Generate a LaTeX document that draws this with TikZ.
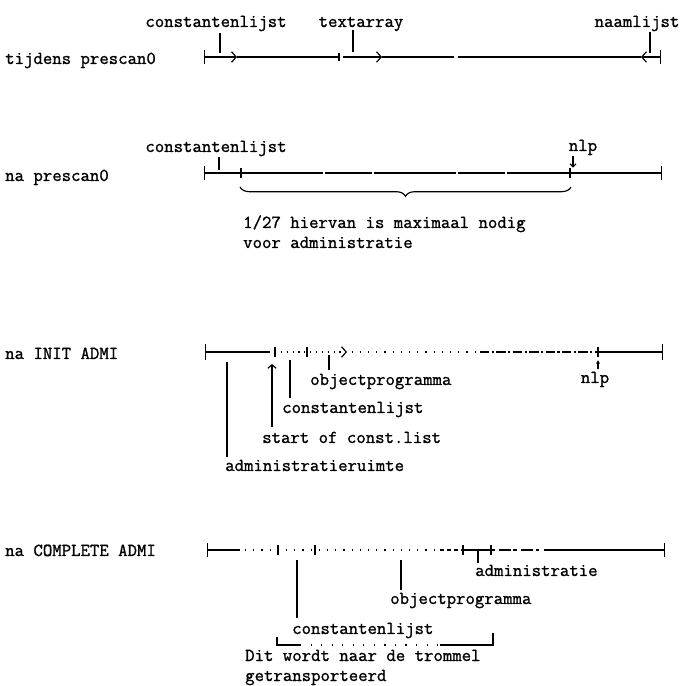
\documentclass[tikz,border=0pt]{standalone}
\usepackage{fontspec}
\newfontfamily\typew[FakeBold=1.2]{Latin Modern Mono}
\usetikzlibrary{arrows.meta,decorations.pathreplacing}
\tikzset{
  lbl/.style={font=\typew\fontsize{15.6}{16}\selectfont, inner sep=0pt},
  memline/.style={line width=1pt},
  pointer/.style={line width=1pt},
  barb/.style={-{Straight Barb[length=4pt,width=9pt]}}
}
\begin{document}
\begin{tikzpicture}[scale=1]
  \useasboundingbox (0,0) rectangle (20.61,20.55);
  % tijdens prescan0
  \node[lbl,anchor=base west] (rowA) at (0.15,18.63) {tijdens prescan0};
  \coordinate (a0) at (6.12,18.84);
  \coordinate (a1) at (10.17,18.84);
  \coordinate (a2) at (19.83,18.84);
  \draw[memline,{Bar[width=12pt]}-{Straight Barb[length=4pt,width=9pt]}] (a0) -- (7.11,18.84);
  \draw[memline] (7.11,18.84) -- (a1);
  \draw[memline] (a1) ++(0,0.13) -- ++(0,-0.26);
  \draw[memline,barb] (10.29,18.84) -- (11.46,18.84);
  \draw[memline] (11.46,18.84) -- (13.62,18.84);
  \draw[memline] (13.74,18.84) -- (19.23,18.84);
  \draw[memline,{Bar[width=12pt]}-{Straight Barb[length=4pt,width=9pt]}] (a2) -- (19.23,18.84);
  \node[lbl,anchor=base] (constA) at (6.48,19.74) {constantenlijst};
  \node[lbl,anchor=base] (textA) at (10.83,19.74) {textarray};
  \node[lbl,anchor=base] (naamA) at (19.11,19.74) {naamlijst};
  \draw[pointer] (6.6,19.56) -- (6.6,18.96);
  \draw[pointer] (10.59,19.65) -- (10.59,18.99);
  \draw[pointer] (19.5,19.59) -- (19.5,18.96);

  % na prescan0
  \node[lbl,anchor=base west] (rowB) at (0.15,15.12) {na prescan0};
  \coordinate (b0) at (6.12,15.36);
  \coordinate (b1) at (7.23,15.36);
  \coordinate (b2) at (17.1,15.36);
  \coordinate (b3) at (19.86,15.36);
  \draw[memline,{Bar[width=12pt]}-] (b0) -- (b1);
  \draw[memline,dash pattern=on 70pt off 1.5pt on 40pt off 2pt] (b1) -- (b2);
  \draw[memline,-{Bar[width=12pt]}] (b2) -- (b3);
  \draw[memline] (b1) ++(0,0.15) -- ++(0,-0.3);
  \draw[memline] (b2) ++(0,0.15) -- ++(0,-0.3);
  \node[lbl,anchor=base] (constB) at (6.48,15.99) {constantenlijst};
  \node[lbl,anchor=base] (nlpB) at (17.49,16.02) {nlp};
  \draw[pointer] (6.57,15.84) -- (6.57,15.45);
  \draw[pointer,-{Straight Barb[length=2.5pt,width=5pt]}] (17.19,15.87) -- (17.19,15.52);
  \draw[memline,decorate,decoration={brace,mirror,amplitude=8pt}] (7.2,14.94) -- (17.13,14.94);
  \node[lbl,anchor=base west] (noteB) at (7.29,13.71) {1/27 hiervan is maximaal nodig};
  \node[lbl,anchor=base west] (noteC) at (7.29,13.11) {voor administratie};

  % na INIT ADMI
  \node[lbl,anchor=base west] (rowC) at (0.15,9.78) {na INIT ADMI};
  \coordinate (c0) at (6.15,9.99);
  \coordinate (c1) at (8.25,9.99);
  \coordinate (c2) at (9.21,9.99);
  \coordinate (c3) at (17.94,9.99);
  \coordinate (c4) at (19.89,9.99);
  \draw[memline,{Bar[width=13pt]}-] (c0) -- (8.1,9.99);
  \draw[memline,dash pattern=on 1pt off 4pt,barb] (c1) -- (10.41,9.99);
  \draw[memline,dash pattern=on 1pt off 6pt] (10.55,9.99) -- (14.4,9.99);
  \draw[memline,dash pattern=on 8pt off 2pt on 2pt off 2pt] (14.4,9.99) -- (c3);
  \draw[memline,-{Bar[width=13pt]}] (c3) -- (c4);
  \draw[memline] (c1) ++(0,0.15) -- ++(0,-0.3);
  \draw[memline] (c2) ++(0,0.15) -- ++(0,-0.3);
  \draw[memline] (c3) ++(0,0.15) -- ++(0,-0.3);
  \node[lbl,anchor=base west] (objC) at (9.3,9.0) {objectprogramma};
  \node[lbl,anchor=base west] (constC) at (8.46,8.16) {constantenlijst};
  \node[lbl,anchor=base west] (startC) at (7.86,7.26) {start of const.list};
  \node[lbl,anchor=base west] (admC) at (6.75,6.42) {administratieruimte};
  \node[lbl,anchor=base] (nlpC) at (17.85,9.06) {nlp};
  \draw[pointer] (9.87,9.9) -- (9.87,9.45);
  \draw[pointer] (8.7,9.75) -- (8.7,8.61);
  \draw[pointer,-{Straight Barb[length=3pt,width=7pt]}] (8.16,7.74) -- (8.16,9.63);
  \draw[pointer] (6.81,9.69) -- (6.81,6.84);
  \draw[pointer,-{Stealth[length=3pt,width=3.5pt]}] (17.94,9.48) -- (17.94,9.74);

  % na COMPLETE ADMI
  \node[lbl,anchor=base west] (rowD) at (0.15,3.87) {na COMPLETE ADMI};
  \coordinate (d0) at (6.21,4.05);
  \coordinate (d1) at (8.34,4.05);
  \coordinate (d2) at (9.45,4.05);
  \coordinate (d3) at (13.89,4.05);
  \coordinate (d4) at (14.34,4.05);
  \coordinate (d5) at (14.73,4.05);
  \coordinate (d6) at (19.95,4.05);
  \draw[memline,{Bar[width=12pt]}-] (d0) -- (7.2,4.05);
  \draw[memline,dash pattern=on 1pt off 6pt] (7.35,4.05) -- (13.2,4.05);
  \draw[memline,dash pattern=on 3pt off 3pt] (13.2,4.05) -- (d3);
  \draw[memline] (d3) -- (d5);
  \draw[memline,dash pattern=on 3pt off 4pt on 10pt off 2pt] (d5) -- (16.5,4.05);
  \draw[memline,-{Bar[width=12pt]}] (16.5,4.05) -- (d6);
  \draw[memline] (d1) ++(0,0.15) -- ++(0,-0.3);
  \draw[memline] (d2) ++(0,0.15) -- ++(0,-0.3);
  \draw[memline] (d3) ++(0,0.15) -- ++(0,-0.3);
  \draw[memline] (d5) ++(0,0.15) -- ++(0,-0.3);
  \draw[pointer] (d4) -- ++(0,-0.39);
  \node[lbl,anchor=base west] (admD) at (14.25,3.27) {administratie};
  \node[lbl,anchor=base west] (objD) at (11.7,2.43) {objectprogramma};
  \node[lbl,anchor=base west] (constD) at (8.76,1.53) {constantenlijst};
  \draw[pointer] (12.03,3.75) -- (12.03,2.85);
  \draw[pointer] (8.91,3.75) -- (8.91,2.01);
  \draw[memline] (8.31,1.44) |- (9.0,1.2);
  \draw[memline,dash pattern=on 1pt off 8pt] (9.0,1.2) -- (13.2,1.2);
  \draw[memline] (13.2,1.2) -| (14.79,1.56);
  \node[lbl,anchor=base west] (noteD) at (7.35,0.72) {Dit wordt naar de trommel};
  \node[lbl,anchor=base west] (noteE) at (7.35,0.12) {getransporteerd};
\end{tikzpicture}
\end{document}
